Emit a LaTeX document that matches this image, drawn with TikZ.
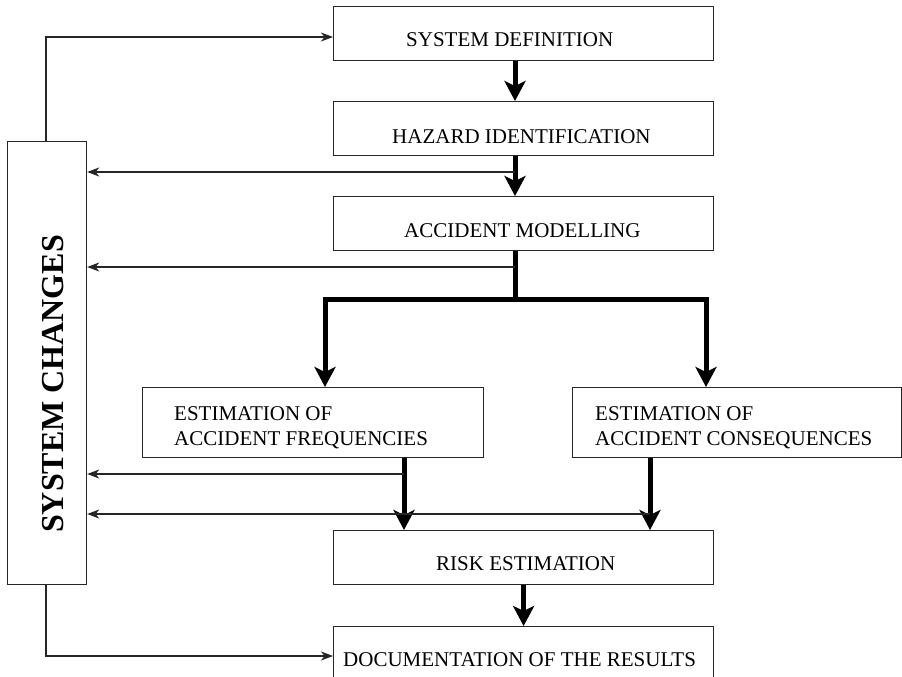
\documentclass[tikz,border=0pt]{standalone}
\usepackage{fontspec}
\setmainfont{Liberation Serif}
\usetikzlibrary{arrows.meta}
\begin{document}
\begin{tikzpicture}[x=1pt,y=-1pt,
  box/.style={draw=black!85,line width=1.2pt,inner sep=0pt,anchor=north west},
  lbl/.style={anchor=base west,inner sep=0pt,font=\fontsize{21}{25}\selectfont},
  flow/.style={line width=5pt,-{Stealth[length=20pt,width=21pt,inset=5pt]}},
  flowline/.style={line width=5pt},
  back/.style={draw=black!85,line width=1.2pt,-{Stealth[length=12pt,width=9pt,inset=3.5pt]}}]
\useasboundingbox (0,0) rectangle (902,677);
\clip (0,0) rectangle (902,677);

% process boxes
\node[box,minimum width=380pt,minimum height=54pt] (sd) at (333,6) {};
\node[box,minimum width=380pt,minimum height=54pt] (hi) at (333,101) {};
\node[box,minimum width=380pt,minimum height=54pt] (am) at (333,196) {};
\node[box,minimum width=341pt,minimum height=70pt] (ef) at (142,387) {};
\node[box,minimum width=329pt,minimum height=70pt] (ec) at (572,387) {};
\node[box,minimum width=380pt,minimum height=54pt] (re) at (333,530) {};
\node[box,minimum width=380pt,minimum height=90pt] (dr) at (333,626) {};
\node[box,minimum width=79pt,minimum height=443pt] (sc) at (7,141) {};

% box texts
\node[lbl] (tsd) at (406,47) {SYSTEM DEFINITION};
\node[lbl] (thi) at (392,143) {HAZARD IDENTIFICATION};
\node[lbl] (tam) at (404,237) {ACCIDENT MODELLING};
\node[lbl] (tef1) at (174,420) {ESTIMATION OF};
\node[lbl] (tef2) at (174,445) {ACCIDENT FREQUENCIES};
\node[lbl] (tec1) at (595,420) {ESTIMATION OF};
\node[lbl] (tec2) at (595,445) {ACCIDENT CONSEQUENCES};
\node[lbl] (tre) at (436,570) {RISK ESTIMATION};
\node[lbl] (tdr) at (343,666) {DOCUMENTATION OF THE RESULTS};
\node[anchor=base west,inner sep=0pt,rotate=90,
      font=\fontsize{32}{36}\selectfont\bfseries] (tsc) at (63,533) {SYSTEM CHANGES};

% reference columns and levels for connectors
\coordinate (mx) at (515,0);
\coordinate (fx) at (404,0);
\coordinate (cx) at (650,0);
\coordinate (lx) at (46,0);
\coordinate (split) at (515,299);
\coordinate (lf) at (325,0);
\coordinate (rf) at (706,0);
\coordinate (y0) at (0,37);
\coordinate (y1) at (0,172);
\coordinate (y2) at (0,267);
\coordinate (y3) at (0,474);
\coordinate (y4) at (0,514);
\coordinate (y5) at (0,656);

% main flow
\draw[flow] (sd.south -| mx) -- (hi.north -| mx);
\draw[flow] (hi.south -| mx) -- (am.north -| mx);
\draw[flowline] (am.south -| mx) -- (split);
\draw[flowline,{Stealth[length=20pt,width=21pt,inset=5pt]}-{Stealth[length=20pt,width=21pt,inset=5pt]}]
  (ef.north -| lf) |- (split) -| (ec.north -| rf);
\draw[flow] (ef.south -| fx) -- (re.north -| fx);
\draw[flow] (ec.south -| cx) -- (re.north -| cx);
\draw[flow] (re.south) -- (dr.north);

% feedback to system changes
\draw[back] (sc.north -| lx) |- (sd.west |- y0);
\draw[back] (mx |- y1) -- (sc.east |- y1);
\draw[back] (mx |- y2) -- (sc.east |- y2);
\draw[back] (fx |- y3) -- (sc.east |- y3);
\draw[back] (cx |- y4) -- (sc.east |- y4);
\draw[back] (sc.south -| lx) |- (dr.west |- y5);
\end{tikzpicture}
\end{document}
